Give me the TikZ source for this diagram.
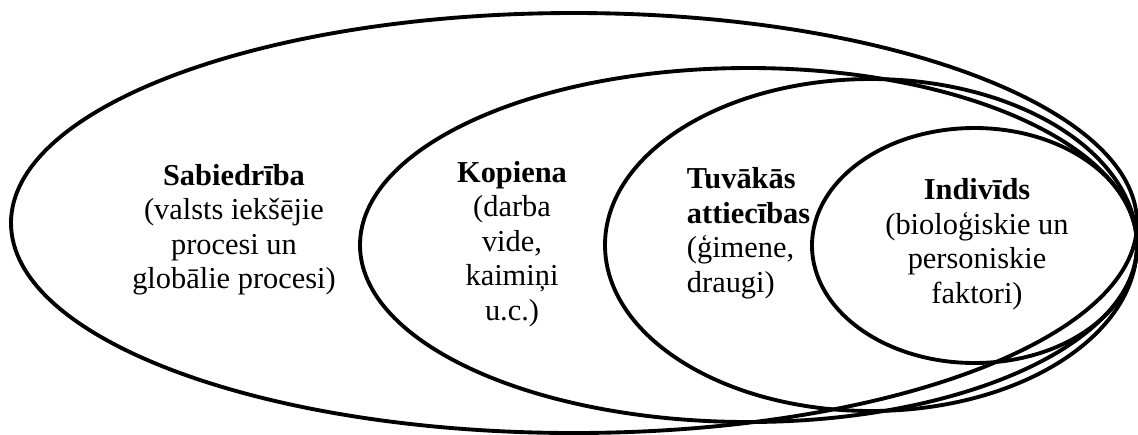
\documentclass[tikz,border=0pt]{standalone}
\usepackage{fontspec}
\setmainfont{Liberation Serif}
\begin{document}
\begin{tikzpicture}[x=0.02cm,y=-0.02cm,line width=2.2pt,
  txt/.style={font=\fontsize{17.3pt}{19.6pt}\selectfont,inner sep=0pt}]
\useasboundingbox(0,0)rectangle(1138,434);
%ellipses
\draw(574,223)ellipse[x radius=563,y radius=210];
\draw(748.5,245)ellipse[x radius=388.5,y radius=177];
\draw(871,245)ellipse[x radius=266,y radius=166];
\draw(974.5,245.5)ellipse[x radius=162.5,y radius=117.5];
%texts (base = last line)
\node[txt,align=center,anchor=base](sabiedriba)at(234,288.5){\textbf{Sabiedrība}\\(valsts iekšējie\\procesi un\\globālie procesi)};
\node[txt,align=center,anchor=base](kopiena)at(512,320){\textbf{Kopiena}\\(darba\\vide,\\kaimiņi\\u.c.)};
\node[txt,align=left,anchor=base west](tuvakas)at(685,292){\textbf{Tuvākās}\\\textbf{attiecības}\\(ģimene,\\draugi)};
\node[txt,align=center,anchor=base](individs)at(977,303){\textbf{Indivīds}\\(bioloģiskie un\\personiskie\\faktori)};
\end{tikzpicture}
\end{document}
